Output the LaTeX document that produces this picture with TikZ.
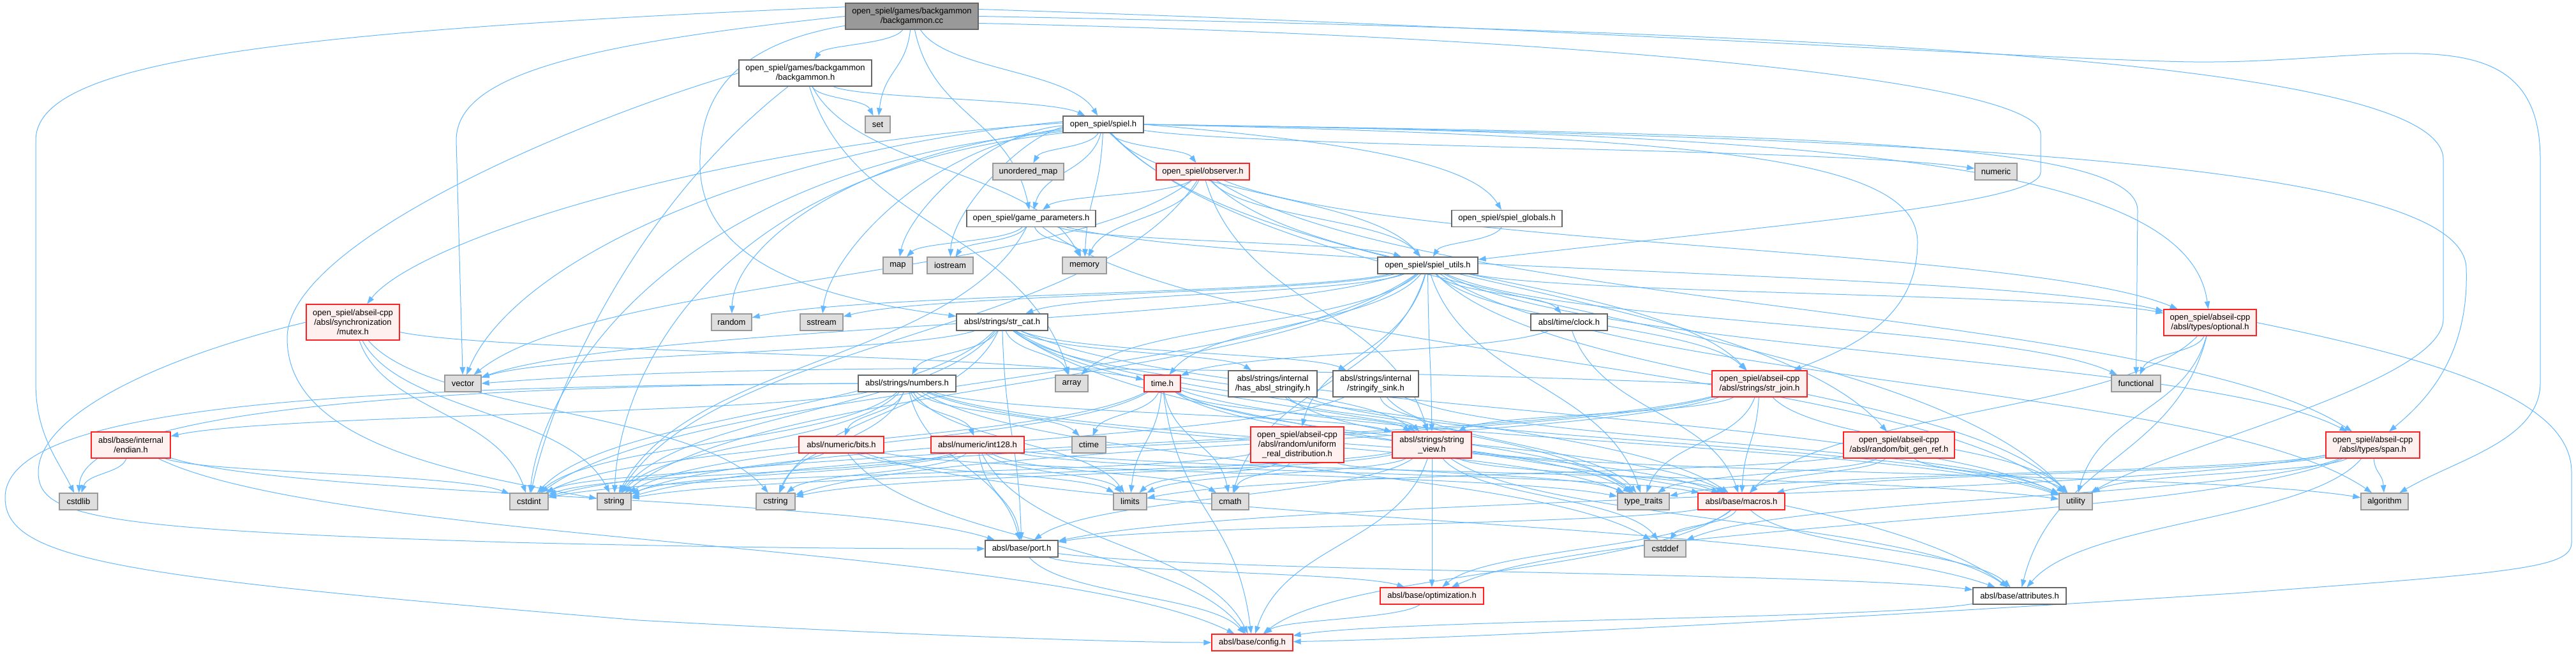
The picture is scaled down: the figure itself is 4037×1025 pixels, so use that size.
\documentclass[tikz,border=0pt]{standalone}
\usepackage{fontspec}
\setmainfont{Liberation Sans}
\usetikzlibrary{arrows.meta,calc}
\pgfdeclarelayer{background}
\pgfsetlayers{background,main}
\definecolor{ebl}{HTML}{63B8FF}
\definecolor{gfour}{HTML}{666666}
\definecolor{gsix}{HTML}{999999}
\definecolor{geight}{HTML}{DEDEDE}
\definecolor{rfill}{HTML}{FFF0F0}
\definecolor{rline}{HTML}{FF2020}
\newcommand{\nfont}{\fontsize{13pt}{15pt}\selectfont}
\begin{document}
\begin{tikzpicture}[x=1pt,y=-1pt,
 box/.style={rectangle, draw, line width=1.3pt, inner xsep=2pt, inner ysep=1pt, font=\nfont, align=center, minimum height=26pt},
 nrm/.style={box, draw=gfour, fill=white},
 sys/.style={box, draw=gsix, fill=geight},
 trn/.style={box, draw=rline, fill=rfill},
 rootn/.style={box, draw=gfour, fill=gsix},
 edg/.style={draw=ebl, line width=1pt, -{Triangle[length=12pt,width=8.5pt]}},
 h2/.style={minimum height=41pt},
 h3/.style={minimum height=56pt},
 wd/.style={minimum width=#1pt}]
\useasboundingbox (0,0) rectangle (4037,1025);
\node[rootn, wd=208, h2] (bgcc) at (1429,25.5) {open\_spiel/games/backgammon\\/backgammon.cc};
\node[nrm, wd=208, h2] (bgh) at (1262,114.5) {open\_spiel/games/backgammon\\/backgammon.h};
\node[sys, wd=39] (set) at (1375.5,195) {set};
\node[nrm, wd=126] (spiel) at (1729,195) {open\_spiel/spiel.h};
\node[sys, wd=111] (umap) at (1611.5,269) {unordered\_map};
\node[trn, wd=146] (obs) at (1885,269) {open\_spiel/observer.h};
\node[sys, wd=66] (numeric) at (3128,269) {numeric};
\node[nrm, wd=202] (gp) at (1616,342.5) {open\_spiel/game\_parameters.h};
\node[nrm, wd=173] (glob) at (2361.5,342.5) {open\_spiel/spiel\_globals.h};
\node[sys, wd=46] (map) at (1407,416) {map};
\node[sys, wd=72] (iostream) at (1489,416) {iostream};
\node[sys, wd=69] (memory) at (1699.5,416) {memory};
\node[nrm, wd=157] (sutils) at (2237.5,416) {open\_spiel/spiel\_utils.h};
\node[trn, wd=146, h3] (mutex) at (553,505) {open\_spiel/abseil-cpp\\/absl/synchronization\\/mutex.h};
\node[sys, wd=63] (random) at (1146.5,505) {random};
\node[sys, wd=67] (sstream) at (1287.5,505) {sstream};
\node[nrm, wd=143] (strcat) at (1570.5,505) {absl/strings/str\_cat.h};
\node[nrm, wd=120] (clock) at (2459,505) {absl/time/clock.h};
\node[trn, wd=145, h2] (optional) at (3463.5,505.5) {open\_spiel/abseil-cpp\\/absl/types/optional.h};
\node[sys, wd=57] (vector) at (725.5,601) {vector};
\node[nrm, wd=153] (numbers) at (1421.5,601) {absl/strings/numbers.h};
\node[sys, wd=51] (array) at (1679.5,601) {array};
\node[trn, wd=57] (timeh) at (1821.5,601) {time.h};
\node[nrm, wd=139, h2] (hasstr) at (1994.5,601.5) {absl/strings/internal\\/has\_absl\_stringify.h};
\node[nrm, wd=134, h2] (sink) at (2156,601.5) {absl/strings/internal\\/stringify\_sink.h};
\node[trn, wd=149, h2] (strjoin) at (2757.5,601.5) {open\_spiel/abseil-cpp\\/absl/strings/str\_join.h};
\node[sys, wd=77] (functional) at (3347.5,601) {functional};
\node[trn, wd=124, h2] (endian) at (205,697.5) {absl/base/internal\\/endian.h};
\node[trn, wd=133] (bits) at (1318.5,697) {absl/numeric/bits.h};
\node[trn, wd=146] (int128) at (1532,697) {absl/numeric/int128.h};
\node[sys, wd=53] (ctime) at (1706.5,697) {ctime};
\node[trn, wd=146, h3] (urd) at (2033,697) {open\_spiel/abseil-cpp\\/absl/random/uniform\\\_real\_distribution.h};
\node[trn, wd=124, h2] (sview) at (2244,697.5) {absl/strings/string\\\_view.h};
\node[trn, wd=174, h2] (bitgen) at (2976,697.5) {open\_spiel/abseil-cpp\\/absl/random/bit\_gen\_ref.h};
\node[trn, wd=147, h2] (span) at (3718.5,697.5) {open\_spiel/abseil-cpp\\/absl/types/span.h};
\node[sys, wd=60] (cstdlib) at (123,786) {cstdlib};
\node[sys, wd=60] (cstdint) at (829,786) {cstdint};
\node[sys, wd=53] (string) at (962.5,786) {string};
\node[sys, wd=61] (cstring) at (1215.5,786) {cstring};
\node[sys, wd=52] (limits) at (1771,786) {limits};
\node[sys, wd=58] (cmath) at (1928,786) {cmath};
\node[sys, wd=81] (ttraits) at (2575.5,786) {type\_traits};
\node[trn, wd=136] (macros) at (2729,786) {absl/base/macros.h};
\node[sys, wd=52] (utility) at (3253,786) {utility};
\node[sys, wd=74] (algorithm) at (3737,786) {algorithm};
\node[nrm, wd=114] (port) at (1601,860) {absl/base/port.h};
\node[sys, wd=65] (cstddef) at (2609.5,860) {cstddef};
\node[trn, wd=162] (optim) at (2244,934) {absl/base/optimization.h};
\node[nrm, wd=146] (attrs) at (3165,934) {absl/base/attributes.h};
\node[trn, wd=127] (config) at (1962.5,1007) {absl/base/config.h};
\begin{pgfonlayer}{background}
\foreach \src/\dst in {bgcc/bgh, bgcc/set, bgcc/spiel, bgcc/gp,
 bgh/set, bgh/spiel, bgh/memory, bgh/array,
 spiel/umap, spiel/obs, spiel/gp, spiel/numeric, spiel/memory, spiel/sutils, spiel/bitgen, spiel/utility,
 obs/gp, obs/memory, obs/vector, obs/string, obs/sutils, obs/sview, obs/span, obs/strjoin, obs/optional,
 gp/map, gp/iostream, gp/memory, gp/string, gp/sutils, gp/optional, gp/utility,
 glob/sutils,
 sutils/random, sutils/sstream, sutils/strcat, sutils/vector, sutils/array, sutils/timeh, sutils/clock, sutils/strjoin, sutils/sview, sutils/urd, sutils/optional, sutils/span, sutils/functional, sutils/utility, sutils/ttraits, sutils/cstdint, sutils/string, sutils/cmath, sutils/algorithm,
 strcat/numbers, strcat/array, strcat/hasstr, strcat/sink, strcat/sview, strcat/vector, strcat/string, strcat/cstdint, strcat/cstring, strcat/ttraits, strcat/utility, strcat/port, strcat/attrs, strcat/macros,
 numbers/endian, numbers/bits, numbers/int128, numbers/ctime, numbers/cstdint, numbers/string, numbers/cstring, numbers/limits, numbers/ttraits, numbers/macros, numbers/port, numbers/sview, numbers/cstddef,
 endian/cstdlib, endian/cstdint, endian/config, endian/port,
 bits/cstdint, bits/limits, bits/ttraits, bits/config, bits/attrs,
 int128/cmath, int128/cstdint, int128/cstring, int128/limits, int128/string, int128/utility, int128/config, int128/macros, int128/port,
 timeh/cmath, timeh/cstdint, timeh/ctime, timeh/limits, timeh/string, timeh/ttraits, timeh/utility, timeh/config, timeh/macros, timeh/sview,
 hasstr/ttraits, hasstr/utility, hasstr/sview,
 sink/string, sink/ttraits, sink/utility, sink/sview,
 clock/timeh, clock/macros,
 mutex/timeh, mutex/cstdint, mutex/string, mutex/cstring,
 strjoin/cstdint, strjoin/cstring, strjoin/string, strjoin/utility, strjoin/ttraits, strjoin/macros, strjoin/sview,
 urd/cmath, urd/cstdint, urd/limits, urd/ttraits,
 sview/algorithm, sview/cstddef, sview/cstring, sview/limits, sview/string, sview/attrs, sview/config, sview/macros, sview/optim, sview/port,
 bitgen/limits, bitgen/ttraits, bitgen/utility, bitgen/macros,
 optional/functional, optional/utility, optional/macros, optional/attrs,
 span/algorithm, span/cstddef, span/ttraits, span/utility, span/attrs, span/macros, span/optim, span/port,
 macros/cstddef, macros/attrs, macros/config, macros/optim, macros/port,
 optim/config, port/attrs, port/config, port/optim, attrs/config}
 \draw[edg] let \p1=(\src), \p2=(\dst) in
   (\src) .. controls ({\x1+0.18*(\x2-\x1)},{\y1+0.5*(\y2-\y1)}) and ({\x1+0.82*(\x2-\x1)},{\y1+0.5*(\y2-\y1)}) .. (\dst);
% connectors leaving spiel.h on its left
\draw[edg] (spiel.182) .. controls (1550,205) and (1425,330) .. (map);
\draw[edg] (spiel.184) .. controls (1600,215) and (1492,330) .. (iostream);
\draw[edg] (spiel.186) .. controls (1450,230) and (1300,400) .. (sstream);
\draw[edg] (spiel.188) .. controls (1350,235) and (1150,380) .. (random);
\draw[edg] (spiel.178) .. controls (1100,230) and (650,380) .. (mutex);
\draw[edg] (spiel.176) .. controls (1150,240) and (800,420) .. (vector);
\draw[edg] (spiel.190) .. controls (1050,260) and (850,600) .. (cstdint);
\draw[edg] (spiel.192) .. controls (1100,270) and (970,600) .. (string);
% long routed connectors
\draw[edg] (bgcc.172) .. controls (400,50) and (56,100) .. (56,220) -- (56,600) .. controls (56,680) and (90,720) .. (cstdlib);
\draw[edg] (bgcc.180) .. controls (900,70) and (715,120) .. (715,220) -- (vector);
\draw[edg] (bgcc.188) .. controls (1150,70) and (1095,150) .. (1097,260) .. controls (1100,420) and (1300,470) .. (strcat);
\draw[edg] (bgcc.6) .. controls (2500,45) and (3300,100) .. (3470,97) .. controls (3750,95) and (3981,20) .. (3981,250) -- (3981,600) .. controls (3981,690) and (3850,720) .. (algorithm);
\draw[edg] (bgcc.0) .. controls (2800,50) and (3829,90) .. (3829,250) -- (3829,500) .. controls (3829,600) and (3400,700) .. (utility);
\draw[edg] (bgcc.-6) .. controls (2400,55) and (3198,120) .. (3198,210) -- (3198,270) .. controls (3198,320) and (2800,350) .. (sutils);
\draw[edg] (bgh.west) .. controls (900,190) and (450,380) .. (450,530) .. controls (450,690) and (700,740) .. (string);
\draw[edg] (bgh) .. controls (1000,320) and (870,600) .. (cstdint);
\draw[edg] (spiel.east) .. controls (2150,225) and (2310,260) .. (glob);
\draw[edg] (spiel.east) .. controls (2700,215) and (3005,250) .. (3005,380) .. controls (3005,500) and (2900,545) .. (strjoin);
\draw[edg] (spiel.east) .. controls (2900,210) and (3430,260) .. (optional);
\draw[edg] (spiel.east) .. controls (3100,215) and (3860,260) .. (3865,420) .. controls (3870,560) and (3800,630) .. (span);
\draw[edg] (spiel.east) .. controls (2800,210) and (3350,220) .. (3350,330) -- (functional);
\draw[edg] (numbers.west) .. controls (700,605) and (130,640) .. (cstdlib);
\draw[edg] (numbers.west) .. controls (500,605) and (8,640) .. (8,780) .. controls (8,880) and (200,905) .. (1000,972) .. controls (1500,1000) and (1800,1007) .. (config);
\draw[edg] (mutex.west) .. controls (250,560) and (60,650) .. (60,740) .. controls (60,810) and (150,830) .. (800,850) .. controls (1200,860) and (1450,860) .. (port);
\draw[edg] (strjoin.west) .. controls (2000,575) and (1200,565) .. (vector.east);
\draw[edg] (optional.east) .. controls (3800,560) and (4030,620) .. (4030,740) -- (4030,850) .. controls (4030,890) and (3950,897) .. (3500,930) .. controls (2800,975) and (2300,1000) .. (config);
\end{pgfonlayer}
\end{tikzpicture}
\end{document}
